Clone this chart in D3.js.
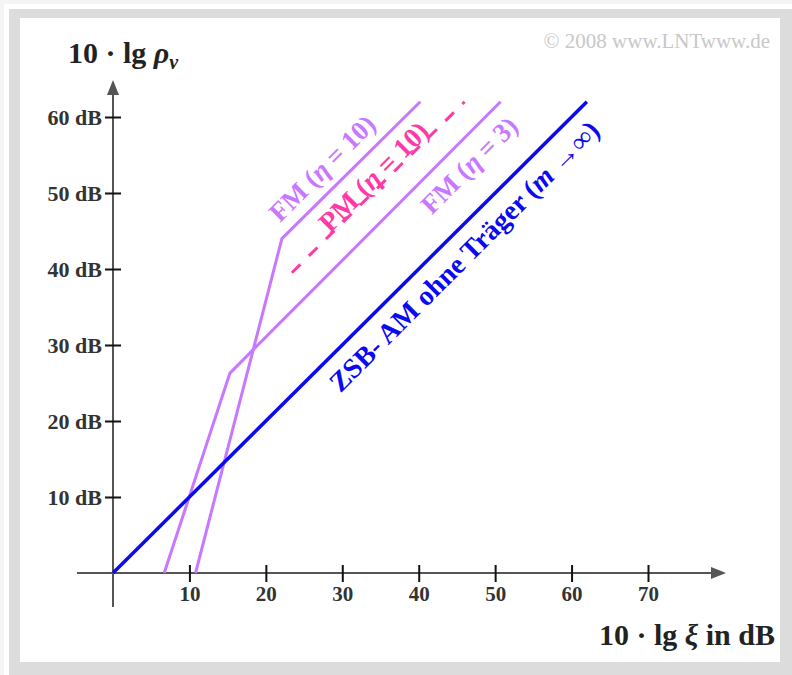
<!DOCTYPE html>
<html>
<head>
<meta charset="utf-8">
<script src="https://cdn.jsdelivr.net/npm/d3@7"></script>
<style>
  body { margin: 0; background: #fff; }
  svg text { font-family: "Liberation Serif", "Times New Roman", serif; }
</style>
</head>
<body>
<div class="content"></div>
<script>
const SVG_W = 792;
const SVG_H = 675;

// tick values
const xTicks = [10, 20, 30, 40, 50, 60, 70];
const yTicks = [10, 20, 30, 40, 50, 60];

// curves (x = 10 lg xi, y = 10 lg rho_v, both in dB)
const amX = [0, 62];
const amY = [0, 62];
const fm10X = [10.8, 22.1, 40.2];
const fm10Y = [0, 44, 62];
const fm3X = [6.7, 15.3, 50.7];
const fm3Y = [0, 26.3, 62];
const pm10X = [23.4, 46];
const pm10Y = [39.5, 62];

const svg = d3.select(".content").append("svg")
  .attr("width", SVG_W).attr("height", SVG_H);

// frame
svg.append("rect").attr("x", 0).attr("y", 0).attr("width", SVG_W).attr("height", SVG_H).attr("fill", "#f4f4f4");
svg.append("rect").attr("x", 4).attr("y", 4).attr("width", SVG_W - 4).attr("height", SVG_H - 4).attr("fill", "#fff");
svg.append("rect").attr("x", 9).attr("y", 9).attr("width", SVG_W - 9).attr("height", SVG_H - 9).attr("fill", "#dcdcdc");
svg.append("rect").attr("x", 20).attr("y", 18).attr("width", 760).attr("height", 644).attr("fill", "#fff");

const x = d3.scaleLinear().domain([0, 70]).range([113, 648]);
const y = d3.scaleLinear().domain([0, 60]).range([573, 117]);

// axes lines with arrows
const axisColor = "#555";
svg.append("line").attr("x1", 77).attr("x2", 714).attr("y1", y(0)).attr("y2", y(0))
  .attr("stroke", axisColor).attr("stroke-width", 2);
svg.append("path").attr("d", `M${726},${y(0)} L${711},${y(0) - 6} L${711},${y(0) + 6} Z`).attr("fill", axisColor);
svg.append("line").attr("x1", x(0)).attr("x2", x(0)).attr("y1", 607).attr("y2", 92)
  .attr("stroke", axisColor).attr("stroke-width", 2);
svg.append("path").attr("d", `M${x(0)},80 L${x(0) - 6},95 L${x(0) + 6},95 Z`).attr("fill", axisColor);

// x axis ticks
const xAxis = d3.axisBottom(x).tickValues(xTicks).tickSize(0).tickPadding(0).tickFormat(d => d);
const gx = svg.append("g").attr("transform", `translate(0,${y(0)})`).call(xAxis);
gx.select(".domain").remove();
gx.selectAll(".tick line").attr("y1", -8).attr("y2", 9).attr("stroke", "#111").attr("stroke-width", 2);
gx.selectAll(".tick text").attr("y", 21).attr("dy", "0.35em")
  .attr("font-family", "Liberation Serif").attr("font-size", 21).attr("font-weight", "bold").attr("fill", "#333");

// y axis ticks
const yAxis = d3.axisLeft(y).tickValues(yTicks).tickSize(0).tickPadding(0).tickFormat(d => d + " dB");
const gy = svg.append("g").attr("transform", `translate(${x(0)},0)`).call(yAxis);
gy.select(".domain").remove();
gy.selectAll(".tick line").attr("x1", -8).attr("x2", 8).attr("stroke", "#111").attr("stroke-width", 2);
gy.selectAll(".tick text").attr("x", -11).attr("dy", "0.35em")
  .attr("font-family", "Liberation Serif").attr("font-size", 22).attr("font-weight", "bold").attr("fill", "#333");

// curves
const line = d3.line().x(d => x(d[0])).y(d => y(d[1]));
const curves = [
  { xs: fm10X, ys: fm10Y, color: "#c878ff", w: 3, dash: null },
  { xs: fm3X, ys: fm3Y, color: "#c878ff", w: 3, dash: null },
  { xs: amX, ys: amY, color: "#0a0af0", w: 3.5, dash: null },
  { xs: pm10X, ys: pm10Y, color: "#ff3aa8", w: 3, dash: "12,12" }
];
svg.append("g").selectAll("path").data(curves).join("path")
  .attr("d", c => line(d3.zip(c.xs, c.ys)))
  .attr("fill", "none")
  .attr("stroke", c => c.color)
  .attr("stroke-width", c => c.w)
  .attr("stroke-dasharray", c => c.dash);

// rotated labels
function label(cx, cy, parts, color, size, baseline) {
  const t = svg.append("text")
    .attr("transform", `translate(${cx},${cy}) rotate(-45)`)
    .attr("text-anchor", "middle")
    .attr("font-size", size).attr("font-weight", "bold").attr("fill", color);
  if (baseline == null) t.attr("dy", "0.35em");
  else t.attr("y", baseline);
  parts.forEach(p => {
    t.append("tspan").text(p[0]).attr("font-style", p[1] ? "italic" : "normal");
  });
  return t;
}
label(322, 168, [["FM ("], ["η", true], [" = 10)"]], "#c878ff", 27);
// PM label sits on its dashed line, the dashes run along the glyph bottoms
const pmCx = 381;
const pmCy = y(pm10Y[0] + (x.invert(pmCx) - pm10X[0]));
label(pmCx, pmCy, [["PM ("], ["η", true], [" = 10)"]], "#ff3aa8", 28, -1);
label(469, 165, [["FM ("], ["η", true], [" = 3)"]], "#c878ff", 27);
label(464, 256, [["ZSB- AM ohne Träger ("], ["m", true], [" →∞)"]], "#0a0af0", 28);

// title
const title = svg.append("text").attr("x", 68).attr("y", 63)
  .attr("font-size", 30).attr("font-weight", "bold").attr("fill", "#222");
title.append("tspan").text("10 · lg ");
title.append("tspan").text("ρ").attr("font-style", "italic");
title.append("tspan").text("v").attr("font-style", "italic").attr("font-size", 20).attr("dy", 6);

// x label
const xl = svg.append("text").attr("x", 775).attr("y", 645).attr("text-anchor", "end")
  .attr("font-size", 30).attr("font-weight", "bold").attr("fill", "#222");
xl.append("tspan").text("10 · lg ");
xl.append("tspan").text("ξ").attr("font-style", "italic");
xl.append("tspan").text(" in dB");

// copyright
svg.append("text").attr("x", 770).attr("y", 48).attr("text-anchor", "end")
  .attr("font-size", 21).attr("fill", "#c8c8c8").text("© 2008 www.LNTwww.de");
</script>
</body>
</html>
